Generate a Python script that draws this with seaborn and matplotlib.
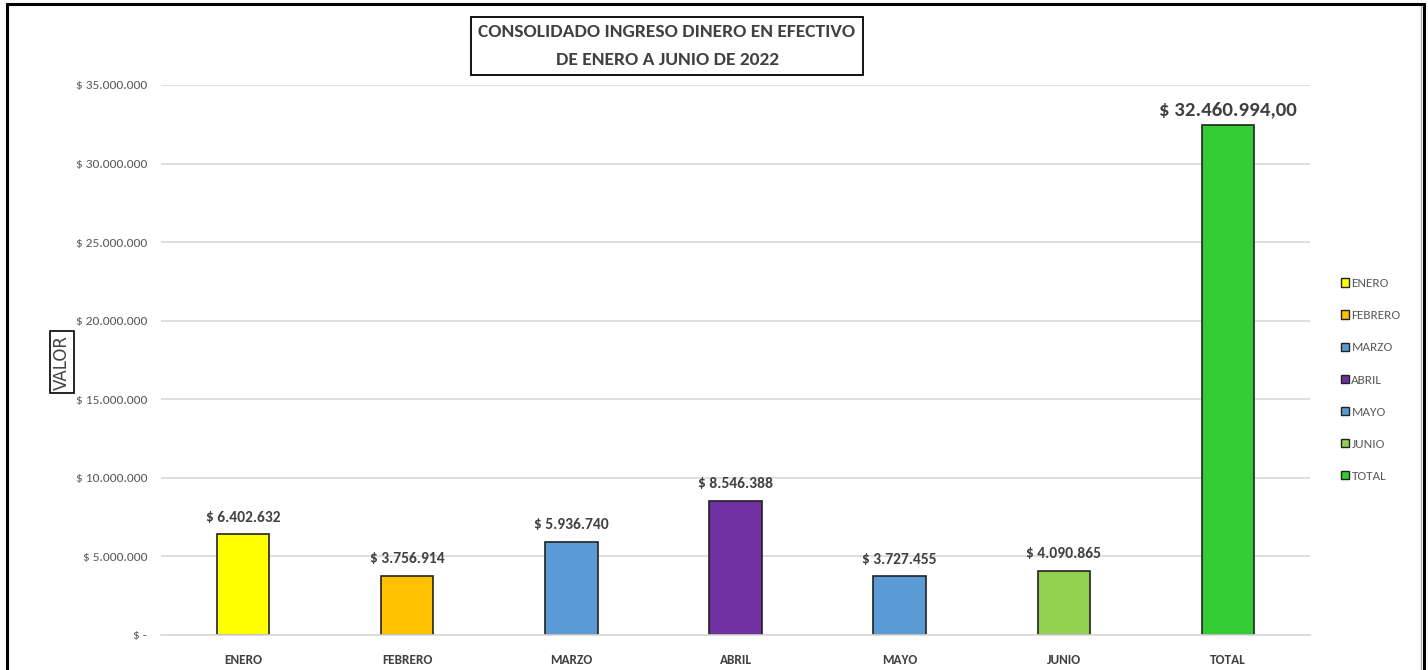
import matplotlib
matplotlib.use("Agg")
import matplotlib.pyplot as plt
import seaborn as sns
import pandas as pd
from matplotlib.lines import Line2D
from matplotlib.patches import Patch

categories = ["ENERO", "FEBRERO", "MARZO", "ABRIL", "MAYO", "JUNIO", "TOTAL"]
values = [6402632, 3756914, 5936740, 8546388, 3727455, 4090865, 32460994]
labels = ["$ 6.402.632", "$ 3.756.914", "$ 5.936.740", "$ 8.546.388",
          "$ 3.727.455", "$ 4.090.865", "$ 32.460.994,00"]
colors = ["#FFFF00", "#FFC000", "#5B9BD5", "#7030A0", "#5B9BD5", "#92D050", "#33CC33"]
yticks = [0, 5000000, 10000000, 15000000, 20000000, 25000000, 30000000, 35000000]
ytick_labels = ["$ -", "$ 5.000.000", "$ 10.000.000", "$ 15.000.000", "$ 20.000.000",
                "$ 25.000.000", "$ 30.000.000", "$ 35.000.000"]

sns.set_theme(style="white")
FAM = ['Carlito', 'Fira Sans Condensed', 'DejaVu Sans']
plt.rcParams['font.family'] = FAM

df = pd.DataFrame({"mes": categories, "valor": values})

fig = plt.figure(figsize=(14.28, 6.70), dpi=100)
ax = fig.add_axes([161/1428, 1 - 635/670, (1310-161)/1428, 550/670])

sns.barplot(data=df, x="mes", y="valor", hue="mes", palette=colors, order=categories,
            hue_order=categories, width=0.32, edgecolor="#222222", linewidth=1.2,
            legend=False, ax=ax, saturation=1)

ax.set_ylim(0, 35000000)
ax.set_xlim(-0.5, len(categories) - 0.5)
ax.set_yticks(yticks)
ax.set_yticklabels(ytick_labels, fontsize=9.6, color="#595959")
ax.yaxis.grid(True, color="#D9D9D9", linewidth=1.2)
ax.set_axisbelow(True)
for s in ["top", "right", "left"]:
    ax.spines[s].set_visible(False)
ax.spines["bottom"].set_color("#D9D9D9")
ax.spines["bottom"].set_linewidth(1.2)
ax.tick_params(axis="y", length=0, pad=10)
ax.tick_params(axis="x", length=0, pad=14)
ax.set_xticks(range(len(categories)))
ax.set_xticklabels(categories, fontsize=9.5, color="#404040", fontweight="bold")
ax.set_xlabel("")
ax.set_ylabel("")

for i, (v, lab) in enumerate(zip(values, labels)):
    big = (i == len(values) - 1)
    ax.annotate(lab, (i, v), xytext=(0, 7 if not big else 5), textcoords="offset points",
                ha="center", va="bottom", fontsize=15 if big else 11.2,
                fontweight="bold", color="#404040")

# y axis label in a box
fig.text(62/1428, 1 - 362/670, "VALOR", rotation=90, ha="center", va="center",
         fontsize=12, color="#404040", family=["DejaVu Sans"],
         bbox=dict(boxstyle="square,pad=0.2", facecolor="white", edgecolor="black", linewidth=1.2))

# title in a box
fig.text(667/1428, 1 - 46/670, "CONSOLIDADO INGRESO DINERO EN EFECTIVO\nDE ENERO A JUNIO DE 2022",
         ha="center", va="center", fontsize=14, fontweight="semibold", color="#404040",
         linespacing=1.85,
         bbox=dict(boxstyle="square,pad=0.4", facecolor="white", edgecolor="black", linewidth=1.3))

# legend
handles = [Patch(facecolor=c, edgecolor="#222222", linewidth=1.0) for c in colors]
leg = fig.legend(handles, categories, loc="center left", bbox_to_anchor=(1329/1428, 1 - 380/670),
                 frameon=False, fontsize=9.5, handlelength=0.6, handleheight=0.6,
                 handletextpad=0.2, labelspacing=1.6, labelcolor="#595959")

# figure border
fig.add_artist(Line2D([7/1428, 7/1428], [0, 1 - 4/670], transform=fig.transFigure, color="black", lw=2.2))
fig.add_artist(Line2D([7/1428, 1424/1428], [1 - 4/670, 1 - 4/670], transform=fig.transFigure, color="black", lw=2.2))
fig.add_artist(Line2D([1424/1428, 1424/1428], [0, 1 - 4/670], transform=fig.transFigure, color="black", lw=2.2))
fig.add_artist(Line2D([1421/1428, 1421/1428], [0, 1 - 6/670], transform=fig.transFigure, color="#AAAAAA", lw=1.0))

fig.savefig("out.png", dpi=100, facecolor="white")
